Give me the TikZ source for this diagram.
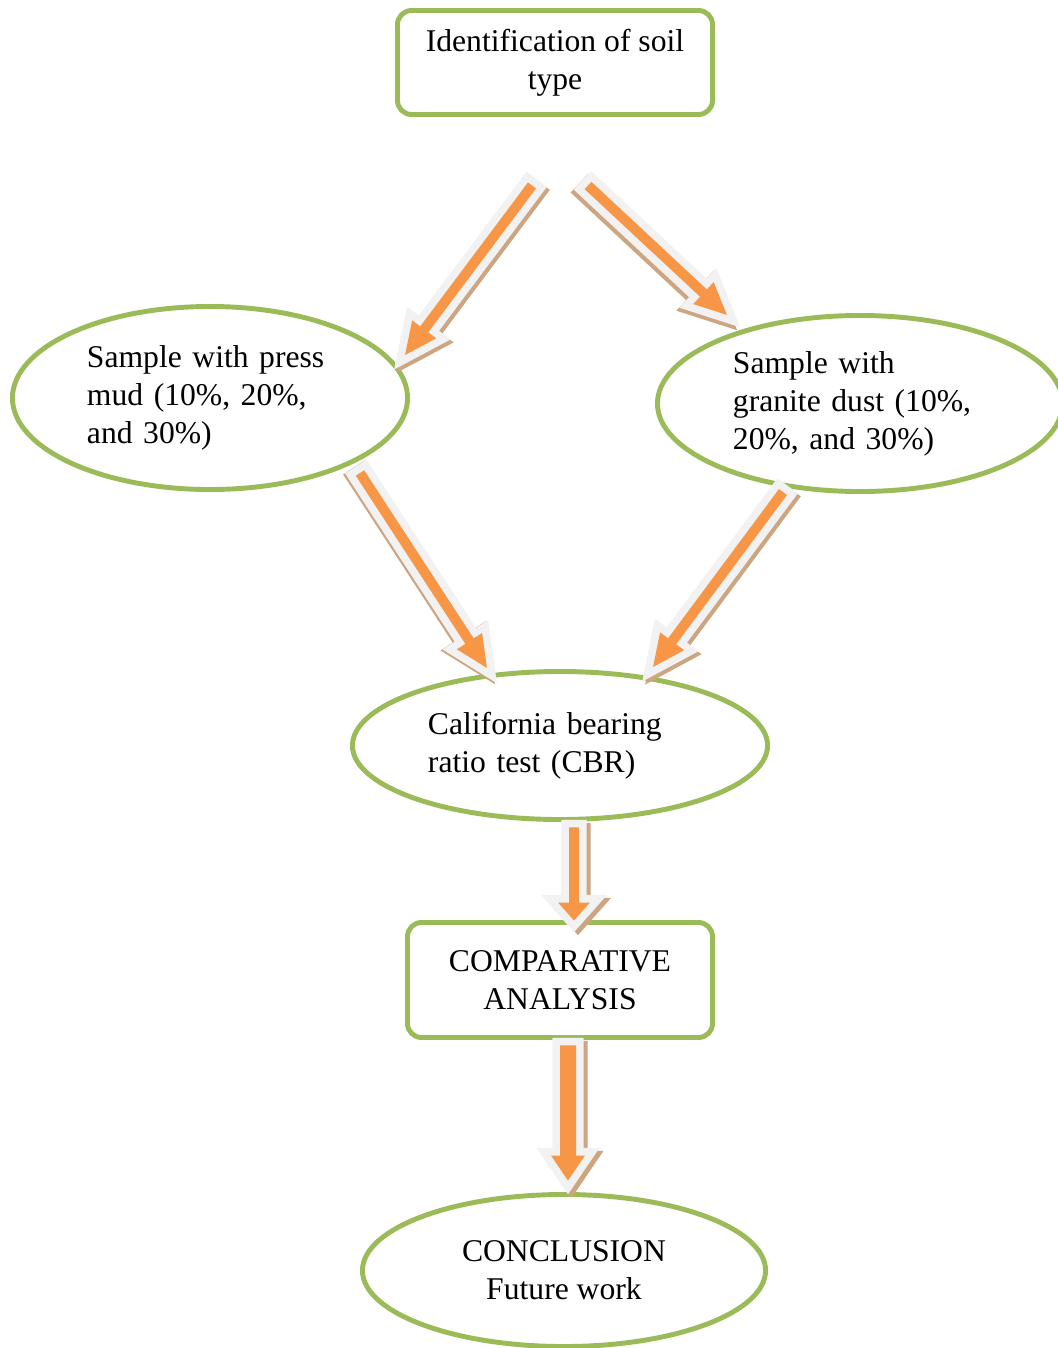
\documentclass[tikz,border=0pt]{standalone}
\usepackage{fontspec}
\setmainfont{Liberation Serif}
\usetikzlibrary{calc,shapes.geometric}
\definecolor{leafgreen}{HTML}{9BBB59}
\definecolor{arrorange}{HTML}{F79646}
\definecolor{arrgray}{HTML}{F2F2F2}
\definecolor{arrshadow}{RGB}{205,165,128}
\tikzset{
  procbox/.style={rectangle, rounded corners=10pt, draw=leafgreen, line width=3.5pt,
                  align=center, inner sep=0pt, fill=white,
                  font=\fontsize{22.5}{27}\selectfont},
  procell/.style={ellipse, draw=leafgreen, line width=3.5pt, align=left,
                  inner sep=0pt, fill=white,
                  font=\fontsize{22.5}{27}\selectfont},
  arrbody/.style={line width=11pt, miter limit=6}
}
% block arrow: tail, tip, shaft half width, head half width, head length, shadow shift
\newcommand{\blockarrow}[6]{%
  \path let \p1=($(#2)-(#1)$) in \pgfextra{%
    \pgfmathsetmacro\arrang{atan2(\y1,\x1)}%
    \pgfmathsetmacro\arrlen{veclen(\x1,\y1)/0.71132}%
    \global\let\arrang\arrang \global\let\arrlen\arrlen};
  \begin{scope}[shift={(#1)}, shift={#6}, rotate=\arrang, x=0.025cm, y=0.025cm]
    \filldraw[arrbody, arrshadow] (0,-#3) -- (\arrlen-#5,-#3) -- (\arrlen-#5,-#4) -- (\arrlen,0)
      -- (\arrlen-#5,#4) -- (\arrlen-#5,#3) -- (0,#3) -- cycle;
  \end{scope}
  \begin{scope}[shift={(#1)}, rotate=\arrang, x=0.025cm, y=0.025cm]
    \filldraw[arrbody, arrgray] (0,-#3) -- (\arrlen-#5,-#3) -- (\arrlen-#5,-#4) -- (\arrlen,0)
      -- (\arrlen-#5,#4) -- (\arrlen-#5,#3) -- (0,#3) -- cycle;
    \fill[arrorange] (0,-#3) -- (\arrlen-#5,-#3) -- (\arrlen-#5,-#4) -- (\arrlen,0)
      -- (\arrlen-#5,#4) -- (\arrlen-#5,#3) -- (0,#3) -- cycle;
  \end{scope}
}
\begin{document}
\begin{tikzpicture}[x=0.025cm, y=-0.025cm]
  \useasboundingbox (0,0) rectangle (1058,1348);
  \node[procbox, minimum width=7.875cm, minimum height=2.6cm] (ident) at (555,62.5) {Identification of soil\\type};
  \node[procell, minimum width=9.875cm, minimum height=4.575cm, text width=6.15cm] (press) at (210,398) {Sample with press\\mud (10\%, 20\%,\\and 30\%)};
  \node[procell, minimum width=10.125cm, minimum height=4.4cm, text width=6.35cm] (granite) at (860,403.5) {Sample with\\granite dust (10\%,\\20\%, and 30\%)};
  \node[procell, minimum width=10.375cm, minimum height=3.7cm, text width=6.6cm] (cbr) at (560,745.5) {California bearing\\ratio test (CBR)};
  \node[procbox, minimum width=7.625cm, minimum height=2.875cm] (comp) at (560,980) {COMPARATIVE\\ANALYSIS};
  \node[procell, align=center, minimum width=10.075cm, minimum height=3.8cm] (concl) at (564,1270.5) {CONCLUSION\\Future work};

  % arrow ends
  \coordinate (a1s) at ($(ident.south)+(-23,68.5)$);
  \coordinate (a1e) at ($(press)+(195,-43)$);
  \coordinate (a2s) at ($(ident.south)+(33,68.5)$);
  \coordinate (a2e) at ($(granite)+(-133,-88.5)$);
  \coordinate (a3s) at ($(press)+(150,75)$);
  \coordinate (a3e) at ($(cbr)+(-73,-77.5)$);
  \coordinate (a4s) at ($(granite)+(-77,88.5)$);
  \coordinate (a4e) at ($(cbr)+(93,-78.5)$);
  \coordinate (a5s) at ($(cbr.south)+(14,5.5)$);
  \coordinate (a5e) at ($(comp.north)+(14,0.5)$);
  \coordinate (a6s) at ($(comp.south)+(8,5.5)$);
  \coordinate (a6e) at ($(concl.north)+(4,-11.5)$);

  \blockarrow{a1s}{a1e}{5}{15}{32}{(3,3)}
  \blockarrow{a2s}{a2e}{5}{15}{32}{(-3,3)}
  \blockarrow{a3s}{a3e}{5}{15}{32}{(-2,1)}
  \blockarrow{a4s}{a4e}{5}{15}{32}{(3,3)}
  \blockarrow{a5s}{a5e}{5}{16}{18}{(4,3)}
  \blockarrow{a6s}{a6e}{8}{17}{25}{(4,3)}
\end{tikzpicture}
\end{document}
